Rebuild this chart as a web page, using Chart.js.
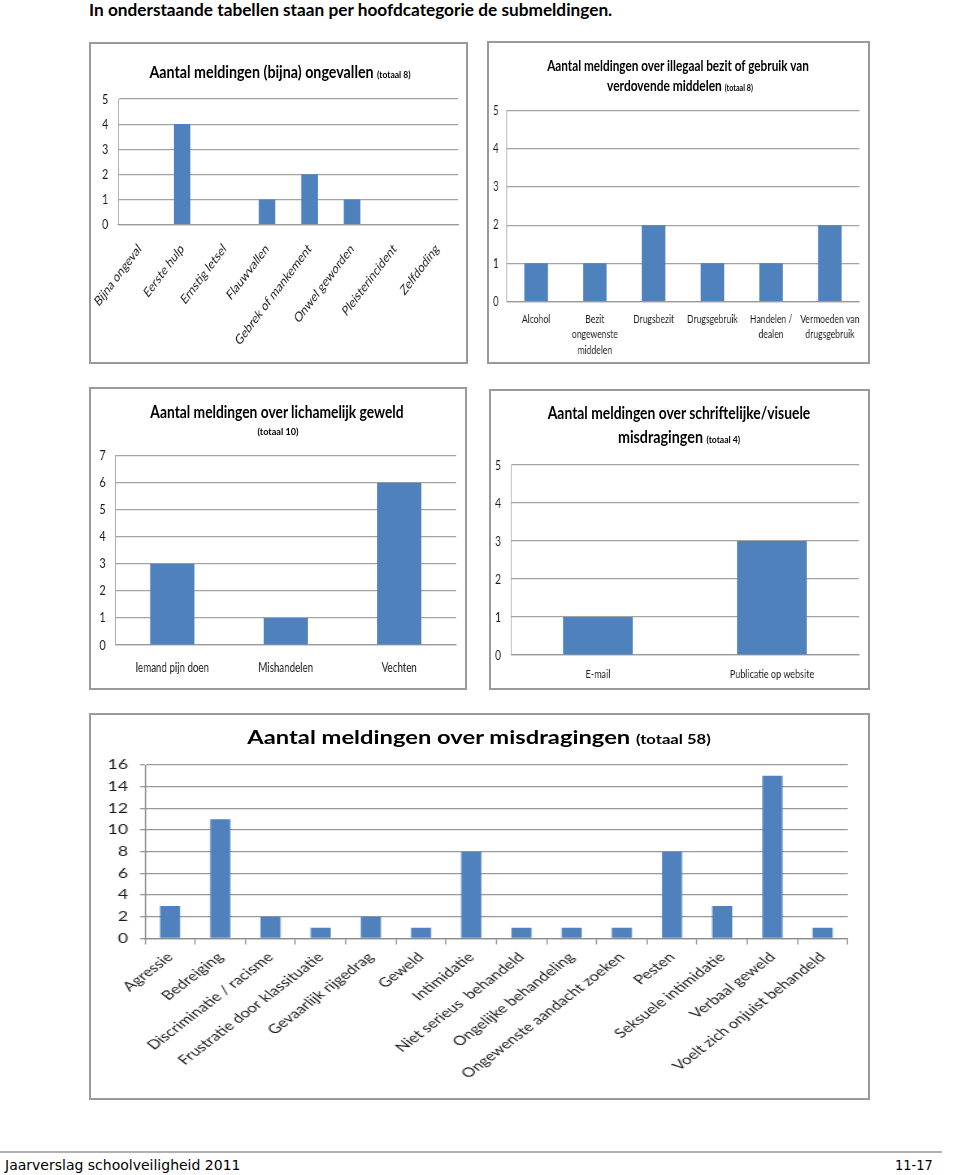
<!DOCTYPE html>
<html>
<head>
<meta charset="utf-8">
<script src="https://cdn.jsdelivr.net/npm/chart.js@4"></script>
<style>
  body { margin: 0; background: #fff; width: 960px; height: 1175px; position: relative; overflow: hidden; }
  .box { position: absolute; border: 2px solid #9a9a9a; box-sizing: border-box; }
  canvas { position: absolute; }
  .txt { position: absolute; white-space: nowrap; font-family: Lato, "Open Sans", sans-serif; font-weight: bold; color: #000; line-height: 1; }
  .txt small { font-size: 0.6em; }
  .rule { position: absolute; left: 0; top: 1151px; width: 942px; height: 2px; background: #b0b0b0; }
</style>
</head>
<body>

<canvas id="c1"></canvas>
<canvas id="c2"></canvas>
<canvas id="c3"></canvas>
<canvas id="c4"></canvas>
<canvas id="c5"></canvas>
<div class="rule"></div>

<script>
// --- data ---
const ongevallenLabels = ['Bijna ongeval', 'Eerste hulp', 'Ernstig letsel', 'Flauwvallen',
    'Gebrek of mankement', 'Onwel geworden', 'Pleisterincident', 'Zelfdoding'];
const ongevallenValues = [0, 4, 0, 1, 2, 1, 0, 0];

const drugsLabels = ['Alcohol', ['Bezit', 'ongewenste', 'middelen'], 'Drugsbezit', 'Drugsgebruik',
    ['Handelen /', 'dealen'], ['Vermoeden van', 'drugsgebruik']];
const drugsValues = [1, 1, 2, 1, 1, 2];

const geweldLabels = ['Iemand pijn doen', 'Mishandelen', 'Vechten'];
const geweldValues = [3, 1, 6];

const schriftLabels = ['E-mail', 'Publicatie op website'];
const schriftValues = [1, 3];

const misdragingLabels = ['Agressie', 'Bedreiging', 'Discriminatie / racisme', 'Frustratie door klassituatie',
    'Gevaarlijk rijgedrag', 'Geweld', 'Intimidatie', 'Niet serieus  behandeld', 'Ongelijke behandeling',
    'Ongewenste aandacht zoeken', 'Pesten', 'Seksuele intimidatie', 'Verbaal geweld', 'Voelt zich onjuist behandeld'];
const misdragingValues = [3, 11, 2, 1, 2, 1, 8, 1, 1, 1, 8, 3, 15, 1];

const yMax = [5, 5, 7, 5, 16];
const yStep = [1, 1, 1, 1, 2];

const BAR_BLUE = '#4f81bd';
const FONT = 'Lato, "Open Sans", sans-serif';

// The source charts are pasted images that were squeezed (or stretched) sideways,
// so each canvas is drawn wider/narrower and then shown at the box size (sx).
function makeBar(id, box, sx, labels, values, max, step, c) {
    const cv = document.getElementById(id);
    cv.width = Math.round(box.w / sx);
    cv.height = box.h;
    cv.style.left = box.x + 'px';
    cv.style.top = box.y + 'px';
    cv.style.width = box.w + 'px';
    cv.style.height = box.h + 'px';

    const frame = document.createElement('div');
    frame.className = 'box';
    Object.assign(frame.style, { left: box.x + 'px', top: box.y + 'px', width: box.w + 'px', height: box.h + 'px' });
    document.body.insertBefore(frame, cv);

    const plotLeft = (c.left - box.x) / sx;
    const plotRight = (c.right - box.x) / sx;
    const yTick = (c.yTicks || 0) / sx;

    return new Chart(cv, {
        type: 'bar',
        data: {
            labels: labels,
            datasets: [{ data: values, backgroundColor: BAR_BLUE, categoryPercentage: 1, barPercentage: c.barPct }],
        },
        options: {
            responsive: false,
            animation: false,
            layout: {
                autoPadding: false,
                padding: { left: 0, right: cv.width - plotRight, top: c.top - box.y, bottom: box.h - (c.bottom - box.y) - c.xHeight },
            },
            plugins: { legend: { display: false }, tooltip: { enabled: false } },
            scales: {
                x: {
                    grid: { display: true, drawOnChartArea: false, drawTicks: c.xTicks > 0, tickLength: c.xTicks, color: c.grid },
                    border: { color: c.axis, width: 1.2 },
                    ticks: {
                        autoSkip: false, maxRotation: c.rot, minRotation: c.rot, padding: c.xPad,
                        color: '#1a1a1a', font: { family: FONT, size: c.xSize, lineHeight: c.xLine || 1.2 },
                    },
                    afterFit: (s) => {
                        s.height = c.xHeight;
                        s.paddingLeft = 0;
                        s.paddingRight = 0;
                    },
                },
                y: {
                    min: 0, max: max,
                    grid: { color: c.grid, lineWidth: c.gridW || 1.2, drawTicks: yTick > 0, tickLength: yTick },
                    border: { color: c.axis, width: 1 },
                    ticks: { stepSize: step, padding: c.yPad / sx, color: '#1a1a1a', font: { family: FONT, size: c.ySize } },
                    afterFit: (s) => {
                        s.width = plotLeft;
                        s.paddingTop = 0;
                        s.paddingBottom = 0;
                    },
                },
            },
        },
    });
}

makeBar('c1', { x: 89, y: 42, w: 379, h: 322 }, 0.75, ongevallenLabels, ongevallenValues, yMax[0], yStep[0], {
    left: 118.3, right: 458, top: 99, bottom: 224.5, xHeight: 130,
    barPct: 0.39, rot: 45, xPad: 16, xTicks: 0, yPad: 10, grid: '#a3a3a3', axis: '#9a9a9a',
    xSize: 14, ySize: 14,
});

makeBar('c2', { x: 487, y: 41, w: 383, h: 323 }, 0.75, drugsLabels, drugsValues, yMax[1], yStep[1], {
    left: 506.7, right: 859.5, top: 110.7, bottom: 301.5, xHeight: 58,
    barPct: 0.40, rot: 0, xPad: 10, xTicks: 0, yPad: 8, grid: '#a3a3a3', axis: '#9a9a9a',
    xSize: 11.5, xLine: 1.35, ySize: 13,
});

makeBar('c3', { x: 89, y: 387, w: 378, h: 303 }, 0.75, geweldLabels, geweldValues, yMax[2], yStep[2], {
    left: 115.5, right: 456, top: 455.7, bottom: 645, xHeight: 38,
    barPct: 0.39, rot: 0, xPad: 15, xTicks: 0, yPad: 10, grid: '#a3a3a3', axis: '#9a9a9a',
    xSize: 13, ySize: 14,
});

makeBar('c4', { x: 489, y: 389, w: 381, h: 301 }, 0.75, schriftLabels, schriftValues, yMax[3], yStep[3], {
    left: 511, right: 859, top: 465, bottom: 655, xHeight: 30,
    barPct: 0.40, rot: 0, xPad: 12, xTicks: 0, yPad: 10, grid: '#a3a3a3', axis: '#9a9a9a',
    xSize: 12, ySize: 14,
});

makeBar('c5', { x: 89, y: 713, w: 781, h: 387 }, 1.3, misdragingLabels, misdragingValues, yMax[4], yStep[4], {
    left: 145, right: 848, top: 765, bottom: 938.5, xHeight: 150,
    barPct: 0.40, rot: 45, xPad: 5, xTicks: 6, yTicks: 5, yPad: 12, grid: '#999999', gridW: 1.3, axis: '#8c8c8c',
    xSize: 13, ySize: 13.5,
});

// --- text lines: titles, header and footer, squeezed to the width seen in the picture ---
const textLines = [
    { html: 'In onderstaande tabellen staan per hoofdcategorie de submeldingen.', x: 89, cy: 9, w: 523, size: 17, align: 'left' },
    { html: 'Aantal meldingen (bijna) ongevallen <small>(totaal 8)</small>', x: 279.5, cy: 70.5, w: 261, size: 17 },
    { html: 'Aantal meldingen over illegaal bezit of gebruik van', x: 678, cy: 64.5, w: 262, size: 15 },
    { html: 'verdovende middelen <small>(totaal 8)</small>', x: 680, cy: 85, w: 146, size: 15 },
    { html: 'Aantal meldingen over lichamelijk geweld', x: 277, cy: 411.5, w: 253.5, size: 16.5 },
    { html: '(totaal 10)', x: 277.5, cy: 431, w: 41, size: 10 },
    { html: 'Aantal meldingen over schriftelijke/visuele', x: 679, cy: 413, w: 262.5, size: 16.5 },
    { html: 'misdragingen <small>(totaal 4)</small>', x: 679, cy: 437, w: 122.5, size: 16.5 },
    { html: 'Aantal meldingen over misdragingen <small style="font-size:0.7em">(totaal 58)</small>', x: 479, cy: 737, w: 463, size: 18 },
    { html: 'Jaarverslag schoolveiligheid 2011', x: 5, cy: 1165, w: 235, size: 14, align: 'left', plain: true },
    { html: '11-17', x: 895, cy: 1165, w: 38, size: 14, align: 'left', plain: true },
];

textLines.forEach((t) => {
    const el = document.createElement('div');
    el.className = 'txt';
    el.innerHTML = t.html;
    el.style.fontSize = t.size + 'px';
    if (t.plain) {
        el.style.fontWeight = 'normal';
        el.style.fontFamily = '"DejaVu Sans", sans-serif';
    }
    document.body.appendChild(el);
    const k = t.w / el.offsetWidth;
    el.style.top = t.cy + 'px';
    el.style.left = t.x + 'px';
    if (t.align === 'left') {
        el.style.transformOrigin = '0 50%';
        el.style.transform = 'translateY(-50%) scaleX(' + k + ')';
    } else {
        el.style.transform = 'translate(-50%, -50%) scaleX(' + k + ')';
    }
});
</script>
</body>
</html>
